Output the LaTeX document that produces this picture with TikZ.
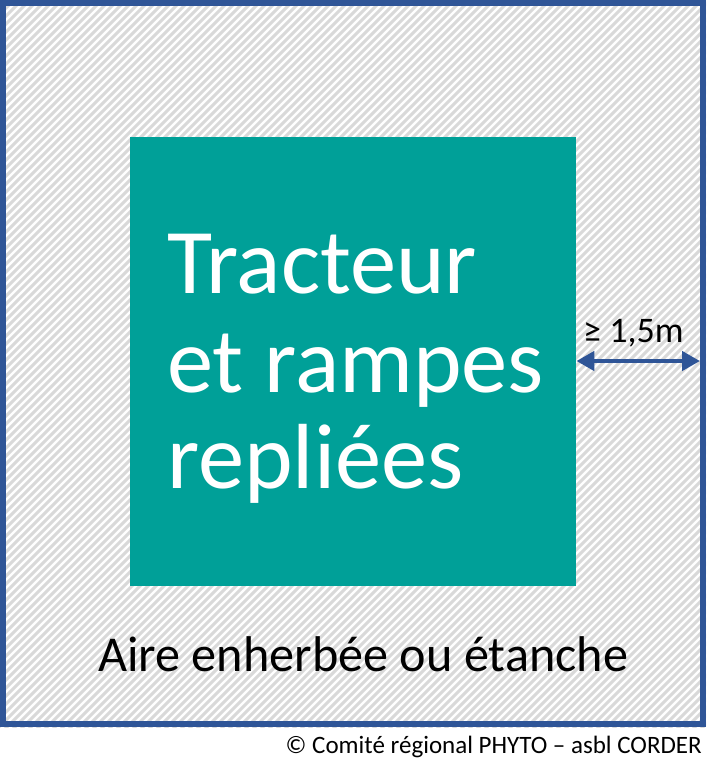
\documentclass[tikz,border=0pt]{standalone}
\usepackage{fontspec}
\setmainfont{Carlito}
\usetikzlibrary{arrows.meta}
\definecolor{frameblue}{RGB}{47,85,151}
\definecolor{boxteal}{RGB}{0,160,152}
\definecolor{hatchgray}{RGB}{217,217,217}
\tikzset{
  hatchline/.style={draw=hatchgray, line width=3pt},
  bigtext/.style={text=white, anchor=base west, inner sep=0pt, font=\fontsize{92.5}{100}\selectfont},
  dimarrow/.style={draw=frameblue, line width=4.5pt, {Triangle[length=18pt,width=19pt]}-{Triangle[length=18pt,width=19pt]}},
}
\begin{document}
\begin{tikzpicture}[x=1pt,y=-1pt]
\useasboundingbox (0,0) rectangle (722,777);
\fill[white] (0,0) rectangle (722,777);
% hatched area
\begin{scope}
  \clip (0,0) rectangle (706,727);
  \foreach \c in {0,8,...,1448} {
    \draw[hatchline] (\c,-10) -- ({\c-740},730);
  }
\end{scope}
% frame
\draw[frameblue, line width=6pt] (3,3) rectangle (703,724);
% teal box
\node[fill=boxteal, minimum width=446pt, minimum height=449pt, inner sep=0pt, anchor=north west] (box) at (130,137) {};
\node[bigtext] (l1) at (167,293) {Tracteur};
\node[bigtext] (l2) at (167,392) {et rampes};
\node[bigtext] (l3) at (167,488) {repliées};
% dimension
\coordinate (arrL) at (box.east |- 0,361);
\coordinate (arrR) at (700,361);
\draw[dimarrow] (arrL) -- (arrR);
\node[anchor=base west, inner sep=0pt, font=\fontsize{36}{40}\selectfont] (dim) at (583,342) {≥ 1,5m};
% labels
\node[anchor=base west, inner sep=0pt, font=\fontsize{50.2}{56}\selectfont] (aire) at (98,671) {Aire enherbée ou étanche};
\node[anchor=base east, inner sep=0pt, font=\fontsize{25}{28}\selectfont] (copy) at (702,753) {© Comité régional PHYTO – asbl CORDER};
\end{tikzpicture}
\end{document}
